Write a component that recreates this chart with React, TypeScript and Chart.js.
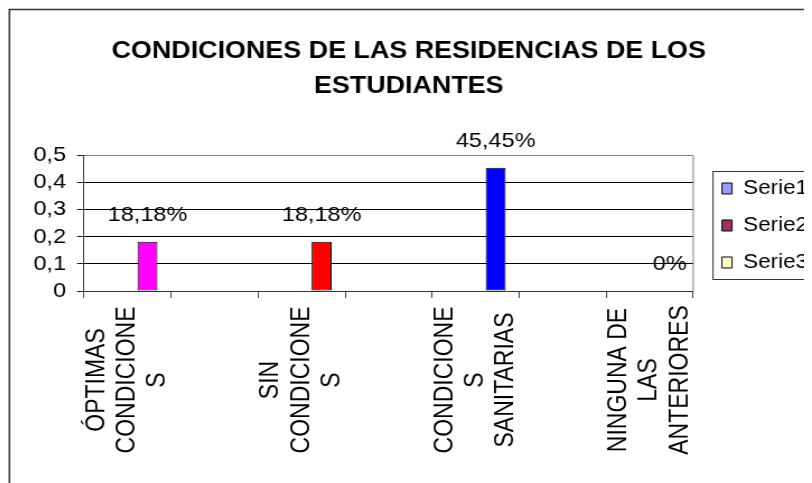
import React, { useEffect, useRef } from 'react';
import { Chart, registerables } from 'chart.js';

Chart.register(...registerables);

// ---- data ----
const titleLines = ['CONDICIONES DE LAS RESIDENCIAS DE LOS', 'ESTUDIANTES'];
const categoryLines: string[][] = [
  ['ÓPTIMAS', 'CONDICIONE', 'S'],
  [],
  ['SIN', 'CONDICIONE', 'S'],
  [],
  ['CONDICIONE', 'S', 'SANITARIAS'],
  [],
  ['NINGUNA DE', 'LAS', 'ANTERIORES'],
];
const seriesNames = ['Serie1', 'Serie2', 'Serie3'];
const serie1Values: (number | null)[] = [null, null, null, null, null, null, null];
const serie2Values: (number | null)[] = [null, null, null, null, null, null, null];
const serie3Values: (number | null)[] = [0.1818, null, 0.1818, null, 0.4545, null, 0];
const serie3PointColors = ['#FF00FF', '#FFFFCC', '#FF0000', '#FFFFCC', '#0000FF', '#FFFFCC', '#FFFFCC'];
const legendColors = ['#9999FF', '#993366', '#FFFFCC'];
const yTickValues = [0, 0.1, 0.2, 0.3, 0.4, 0.5];
const yTickLabels = ['0', '0,1', '0,2', '0,3', '0,4', '0,5'];

// ---- geometry (logical canvas, stretched horizontally by CSS) ----
const W = 718;
const H = 475;
const CSS_W = 804;
const FONT = '"Liberation Sans", Arial, sans-serif';
const LEG_FONT = 20;
const LEG_PAD = 17;

const formatPct = (v: number) => (v === 0 ? '0%' : (v * 100).toFixed(2).replace('.', ',') + '%');

const decorPlugin = {
  id: 'decor',
  afterLayout(chart: any) {
    const lg = chart.legend;
    if (lg) {
      lg.left += 8.6;
      lg.right += 8.6;
      lg.top += 2.25;
      lg.bottom += 2.25;
    }
  },
  beforeDatasetsDraw(chart: any) {
    const { ctx, chartArea: a } = chart;
    ctx.save();
    ctx.strokeStyle = '#808080';
    ctx.lineWidth = 1;
    ctx.beginPath();
    ctx.moveTo(a.right, a.top);
    ctx.lineTo(a.right, a.bottom);
    ctx.stroke();
    ctx.restore();
  },
  afterDraw(chart: any) {
    const { ctx } = chart;
    const xScale = chart.scales.x;
    ctx.save();
    // category labels (rotated, centred lines)
    ctx.fillStyle = '#000';
    ctx.font = `23px ${FONT}`;
    ctx.textAlign = 'center';
    ctx.textBaseline = 'middle';
    const lh = 27.2;
    categoryLines.forEach((lines, i) => {
      if (!lines.length) return;
      const cx = xScale.getPixelForValue(i);
      ctx.save();
      ctx.translate(cx, 372);
      ctx.rotate(-Math.PI / 2);
      lines.forEach((ln, j) => {
        ctx.fillText(ln, 0, (j - (lines.length - 1) / 2) * lh);
      });
      ctx.restore();
    });
    // value labels
    ctx.font = `21px ${FONT}`;
    const meta = chart.getDatasetMeta(2);
    serie3Values.forEach((v, i) => {
      if (v === null) return;
      const el = meta.data[i];
      ctx.fillText(formatPct(v), el.x, el.y - 26.5);
    });
    // legend frame
    const lg = chart.legend;
    if (lg) {
      const colH = 3 * (LEG_FONT + LEG_PAD);
      const y0 = (lg.top + LEG_PAD + lg.bottom - colH) / 2;
      const left = lg.left + LEG_PAD - 8;
      const top = y0 - 7;
      const bottom = y0 + colH - LEG_PAD + 7;
      ctx.strokeStyle = '#333';
      ctx.lineWidth = 1;
      ctx.strokeRect(left, top, W + 20 - left, bottom - top);
    }
    // outer frame
    ctx.strokeStyle = '#333';
    ctx.lineWidth = 1.5;
    ctx.beginPath();
    ctx.moveTo(1.3, H + 5);
    ctx.lineTo(1.3, 1.5);
    ctx.lineTo(W - 0.8, 1.5);
    ctx.lineTo(W - 0.8, H + 5);
    ctx.stroke();
    ctx.restore();
  },
};

export default function App() {
  const ref = useRef<HTMLCanvasElement>(null);
  useEffect(() => {
    document.documentElement.style.overflow = 'hidden';
    document.body.style.overflow = 'hidden';
    const seriesValues = [serie1Values, serie2Values, serie3Values];
    const chart = new Chart(ref.current as HTMLCanvasElement, {
      type: 'bar',
      data: {
        labels: categoryLines.map((l) => l.join(' ')),
        datasets: seriesNames.map((name, i) => ({
          label: name,
          data: seriesValues[i],
          backgroundColor: i === 2 ? serie3PointColors : legendColors[i],
          borderColor: '#000',
          borderWidth: 1,
          borderSkipped: false,
        })) as any,
      },
      options: {
        responsive: false,
        animation: false,
        devicePixelRatio: 1,
        layout: { padding: { left: 0, top: 0, bottom: 0, right: 2.2 } },
        datasets: {
          bar: { categoryPercentage: 0.6893, barPercentage: 1 },
        },
        scales: {
          x: {
            type: 'category',
            afterFit: (s: any) => {
              s.height = 192;
            },
            ticks: { display: false },
            grid: {
              offset: true,
              drawOnChartArea: false,
              drawTicks: true,
              tickLength: 7,
              color: '#444',
              tickColor: '#444',
            },
            border: { display: true, color: '#333', width: 1 },
          },
          y: {
            min: 0,
            max: 0.5,
            afterFit: (s: any) => {
              s.width = 67.87;
            },
            afterBuildTicks: (s: any) => {
              s.ticks = yTickValues.map((v) => ({ value: v }));
            },
            ticks: {
              autoSkip: false,
              padding: 9.8,
              color: '#000',
              font: { size: 21, family: FONT },
              callback: (_v: any, idx: number) => yTickLabels[idx],
            },
            grid: {
              color: (c: any) => (c.tick && Math.abs(c.tick.value - 0.5) < 1e-6 ? '#808080' : '#000'),
              tickColor: '#222',
              tickLength: 6.25,
              lineWidth: 1,
            },
            border: { display: true, color: '#333', width: 1 },
          },
        },
        plugins: {
          title: {
            display: true,
            text: titleLines,
            color: '#000',
            font: { size: 24, weight: 'bold', family: FONT, lineHeight: 1.458 },
            padding: { top: 25.8, bottom: 51.7 },
          },
          legend: {
            position: 'right',
            fullSize: false,
            labels: {
              boxWidth: 9,
              boxHeight: 11,
              padding: LEG_PAD,
              color: '#000',
              font: { size: LEG_FONT, family: FONT },
              generateLabels: (ch: any) =>
                ch.data.datasets.map((ds: any, i: number) => ({
                  text: ds.label,
                  fillStyle: legendColors[i],
                  strokeStyle: '#000',
                  lineWidth: 1,
                  hidden: false,
                  datasetIndex: i,
                })),
            },
          },
          tooltip: { enabled: false },
        },
      } as any,
      plugins: [decorPlugin],
    });
    return () => chart.destroy();
  }, []);
  return (
    <canvas
      ref={ref}
      width={W}
      height={H}
      style={{ display: 'block', width: `${CSS_W}px`, height: `${H}px` }}
    />
  );
}
